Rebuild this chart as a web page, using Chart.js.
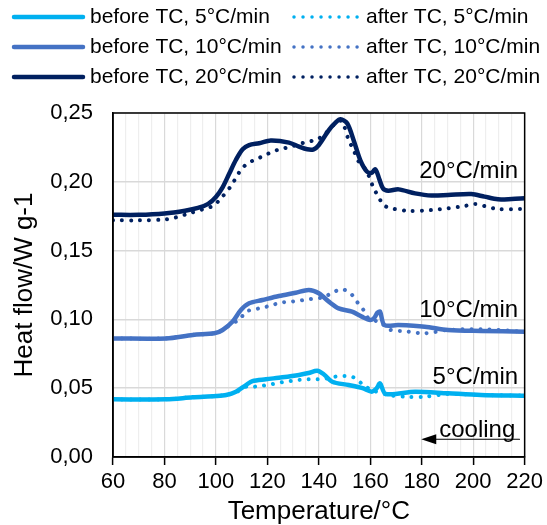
<!DOCTYPE html>
<html>
<head>
<meta charset="utf-8">
<script src="https://cdn.jsdelivr.net/npm/chart.js@4.4.1/dist/chart.umd.min.js"></script>
<style>
  html, body { margin: 0; padding: 0; background: #fff; }
  #wrap { width: 547px; height: 525px; }
</style>
</head>
<body>
<div id="wrap"><canvas id="dsc"></canvas></div>
<script>
// temperatures (°C) and heat flow (W/g)
const t5Before = [60, 80.7, 91, 100, 104, 107.8, 111.7, 114.2, 119.4, 125.8, 132.3, 136, 139.4, 142, 145.2, 151.6, 157, 160.6, 162.5, 163.8, 166, 177.4, 190.2, 203, 220];
const hf5Before = [0.0419, 0.0419, 0.0434, 0.0443, 0.0451, 0.0475, 0.0523, 0.0552, 0.0565, 0.0579, 0.0596, 0.061, 0.0627, 0.060, 0.0547, 0.0523, 0.050, 0.0475, 0.050, 0.0535, 0.0458, 0.0475, 0.0463, 0.0451, 0.0446];

const t5After = [60, 80, 91, 100, 104, 107.8, 111.7, 114.9, 118.1, 122, 125.6, 129.1, 132.3, 135.9, 139.4, 143, 146.4, 150.3, 153.5, 157.4, 160.6, 167, 173.5, 181.2, 190.2, 203, 220];
const hf5After = [0.0419, 0.0419, 0.0434, 0.0443, 0.0451, 0.047, 0.0511, 0.0511, 0.0518, 0.053, 0.0543, 0.0552, 0.056, 0.0565, 0.0565, 0.057, 0.0584, 0.0589, 0.0579, 0.0523, 0.0487, 0.0451, 0.0438, 0.0438, 0.0458, 0.0451, 0.0446];

const t10Before = [60, 80.7, 91, 99.4, 102.6, 106.5, 109.7, 112.9, 118.1, 124.5, 131, 136.1, 140, 143.9, 147.7, 152.9, 156.7, 160, 161.5, 162.8, 163.8, 165.5, 170.9, 181.2, 190.2, 203.1, 220];
const hf10Before = [0.0862, 0.0862, 0.0887, 0.0899, 0.0923, 0.0984, 0.1068, 0.1117, 0.1141, 0.117, 0.1194, 0.1214, 0.119, 0.1129, 0.108, 0.1056, 0.102, 0.0996, 0.101, 0.1049, 0.1056, 0.0959, 0.0959, 0.0947, 0.0923, 0.0916, 0.0911];

const t10After = [60, 80, 91, 99.4, 102.6, 106.5, 107.8, 109.1, 111.7, 114.9, 118.1, 122, 125.2, 129.1, 132.3, 135.9, 139.4, 142, 145.2, 149, 152.3, 154.8, 157.4, 159.3, 161.9, 164.5, 167, 174.8, 181.2, 190.2, 203.1, 220];
const hf10After = [0.0862, 0.0862, 0.0887, 0.0899, 0.0923, 0.0975, 0.0984, 0.0996, 0.1056, 0.1073, 0.1085, 0.1105, 0.1122, 0.1129, 0.1136, 0.1146, 0.1153, 0.116, 0.1194, 0.1219, 0.119, 0.1129, 0.1068, 0.1008, 0.0991, 0.0971, 0.0928, 0.0911, 0.0899, 0.0923, 0.0928, 0.0911];

const t20Before = [60, 70, 80, 88, 93, 97, 100, 102.6, 105.2, 107.8, 110.4, 112.9, 116.8, 121.3, 128.4, 132.3, 135.5, 138, 140, 143.9, 146.5, 148.4, 151, 153.5, 156.1, 158.7, 160.5, 162, 163.5, 165, 167, 171, 177.4, 183.8, 190.2, 199.3, 204.4, 209.6, 215, 220];
const hf20Before = [0.176, 0.176, 0.177, 0.179, 0.181, 0.184, 0.189, 0.196, 0.206, 0.216, 0.2236, 0.2267, 0.228, 0.230, 0.2285, 0.2255, 0.2236, 0.2236, 0.2267, 0.2376, 0.243, 0.2454, 0.2425, 0.2304, 0.2158, 0.2074, 0.2065, 0.209, 0.202, 0.195, 0.1935, 0.1945, 0.1916, 0.190, 0.1904, 0.1911, 0.1892, 0.1873, 0.1875, 0.188];

const t20After = [60, 70, 80.7, 84.6, 88.5, 94.9, 98.8, 101.4, 105.9, 107.8, 109.7, 112.3, 115.5, 118.7, 122, 125.2, 129.1, 132.3, 135.9, 139.4, 142.6, 147.1, 149, 151.6, 153.5, 155.5, 157.4, 159.3, 161.3, 163.2, 165.1, 168.3, 174.8, 183.8, 190.2, 196.7, 200.5, 204.4, 209.6, 218.6, 220];
const hf20After = [0.172, 0.172, 0.1727, 0.1742, 0.1764, 0.180, 0.1824, 0.1868, 0.197, 0.203, 0.2086, 0.2134, 0.2163, 0.219, 0.2219, 0.2238, 0.2255, 0.2275, 0.2291, 0.2309, 0.2352, 0.2437, 0.244, 0.2304, 0.2231, 0.2146, 0.211, 0.2049, 0.1953, 0.1892, 0.1831, 0.1807, 0.1788, 0.1795, 0.1807, 0.1824, 0.1839, 0.1824, 0.1802, 0.1802, 0.180];

const rateLabels = ["5°C/min", "10°C/min", "20°C/min"];
const rateLabelY = [0.0581, 0.1068, 0.2073];
const rateColors = ["#00B0F0", "#4472C4", "#002060"];

const FONT = "'Liberation Sans', Arial, sans-serif";

function pts(xs, ys) {
  return xs.map((x, i) => ({ x: x, y: ys[i] }));
}

function solid(label, xs, ys, color) {
  return {
    label: label,
    data: pts(xs, ys),
    borderColor: color,
    backgroundColor: color,
    borderWidth: 4.5,
    pointRadius: 0,
    tension: 0.3,
    fill: false,
    borderCapStyle: "round",
    borderJoinStyle: "round",
  };
}

function dotted(label, xs, ys, color) {
  return {
    label: label,
    data: pts(xs, ys),
    borderColor: color,
    backgroundColor: color,
    borderWidth: 4,
    borderDash: [0.01, 9],
    borderCapStyle: "round",
    pointRadius: 0,
    tension: 0.3,
    fill: false,
  };
}

const datasets = [
  solid("before TC, 5°C/min", t5Before, hf5Before, rateColors[0]),
  dotted("after TC, 5°C/min", t5After, hf5After, rateColors[0]),
  solid("before TC, 10°C/min", t10Before, hf10Before, rateColors[1]),
  dotted("after TC, 10°C/min", t10After, hf10After, rateColors[1]),
  solid("before TC, 20°C/min", t20Before, hf20Before, rateColors[2]),
  dotted("after TC, 20°C/min", t20After, hf20After, rateColors[2]),
];

// legend in two columns + frame + text notes
const extras = {
  id: "extras",
  afterDraw(chart) {
    const ctx = chart.ctx;
    const a = chart.chartArea;
    const xs = chart.scales.x;
    const ys = chart.scales.y;
    ctx.save();

    // frame
    ctx.strokeStyle = "#000";
    ctx.lineWidth = 1.5;
    ctx.strokeRect(a.left, a.top, a.right - a.left, a.bottom - a.top);

    // legend
    const rows = [17, 47, 77];
    ctx.font = "21px " + FONT;
    ctx.textBaseline = "middle";
    ctx.fillStyle = "#000";
    for (let i = 0; i < 3; i++) {
      const y = rows[i];
      ctx.strokeStyle = rateColors[i];
      ctx.lineCap = "round";
      ctx.lineWidth = 4.5;
      ctx.setLineDash([]);
      ctx.beginPath();
      ctx.moveTo(14, y);
      ctx.lineTo(83, y);
      ctx.stroke();
      ctx.fillText(datasets[i * 2].label, 90, y);

      ctx.lineWidth = 3.5;
      ctx.setLineDash([0.01, 9]);
      ctx.beginPath();
      ctx.moveTo(294, y);
      ctx.lineTo(358, y);
      ctx.stroke();
      ctx.setLineDash([]);
      ctx.fillText(datasets[i * 2 + 1].label, 366, y);
    }

    // rate notes
    ctx.font = "24px " + FONT;
    ctx.textAlign = "right";
    const xr = xs.getPixelForValue(217.5);
    for (let i = 0; i < 3; i++) {
      ctx.fillText(rateLabels[i], xr, ys.getPixelForValue(rateLabelY[i]));
    }

    // cooling arrow
    ctx.textAlign = "left";
    ctx.fillText("cooling", xs.getPixelForValue(186.8), ys.getPixelForValue(0.0196));
    const ay = ys.getPixelForValue(0.0129);
    const ax0 = xs.getPixelForValue(179.8);
    const ax1 = xs.getPixelForValue(218);
    ctx.strokeStyle = "#000";
    ctx.lineWidth = 1.2;
    ctx.beginPath();
    ctx.moveTo(ax0 + 10, ay);
    ctx.lineTo(ax1, ay);
    ctx.stroke();
    ctx.beginPath();
    ctx.moveTo(ax0, ay);
    ctx.lineTo(ax0 + 15, ay - 5);
    ctx.lineTo(ax0 + 15, ay + 5);
    ctx.closePath();
    ctx.fill();

    ctx.restore();
  },
};

new Chart(document.getElementById("dsc"), {
  type: "line",
  data: { datasets: datasets },
  options: {
    responsive: true,
    maintainAspectRatio: false,
    animation: false,
    layout: { padding: { top: 113, right: 19, left: 0, bottom: 0 } },
    plugins: {
      legend: { display: false },
      tooltip: { enabled: false },
    },
    scales: {
      x: {
        type: "linear",
        min: 60,
        max: 220,
        afterFit: (s) => { s.height = 68; },
        ticks: {
          stepSize: 5,
          autoSkip: false,
          maxRotation: 0,
          padding: 4,
          color: "#000",
          font: { family: FONT, size: 22 },
          callback: (v) => (v % 20 === 0 ? String(v) : ""),
        },
        grid: {
          color: (c) => (c.tick && c.tick.value % 20 === 0 ? "#d9d9d9" : "#eeeeee"),
          lineWidth: 1.2,
          drawTicks: true,
          tickLength: 8,
          tickColor: (c) => (c.tick && c.tick.value % 20 === 0 ? "#000" : "rgba(0,0,0,0)"),
          tickWidth: 1.5,
        },
        border: { display: true, color: "#000", width: 1.5 },
        title: {
          display: true,
          text: "Temperature/°C",
          color: "#000",
          padding: 0,
          font: { family: FONT, size: 26, lineHeight: 1 },
        },
      },
      y: {
        min: 0,
        max: 0.25,
        afterFit: (s) => { s.width = 113; },
        ticks: {
          stepSize: 0.05,
          padding: 20,
          color: "#000",
          font: { family: FONT, size: 22 },
          callback: (v) => v.toFixed(2).replace(".", ","),
        },
        grid: {
          color: "#d9d9d9",
          lineWidth: 1.5,
          drawTicks: false,
        },
        border: { display: true, color: "#000", width: 1.5 },
        title: {
          display: true,
          text: "Heat flow/W g-1",
          color: "#000",
          padding: { top: 12, bottom: 0 },
          font: { family: FONT, size: 26, lineHeight: 1 },
        },
      },
    },
  },
  plugins: [extras],
});
</script>
</body>
</html>
